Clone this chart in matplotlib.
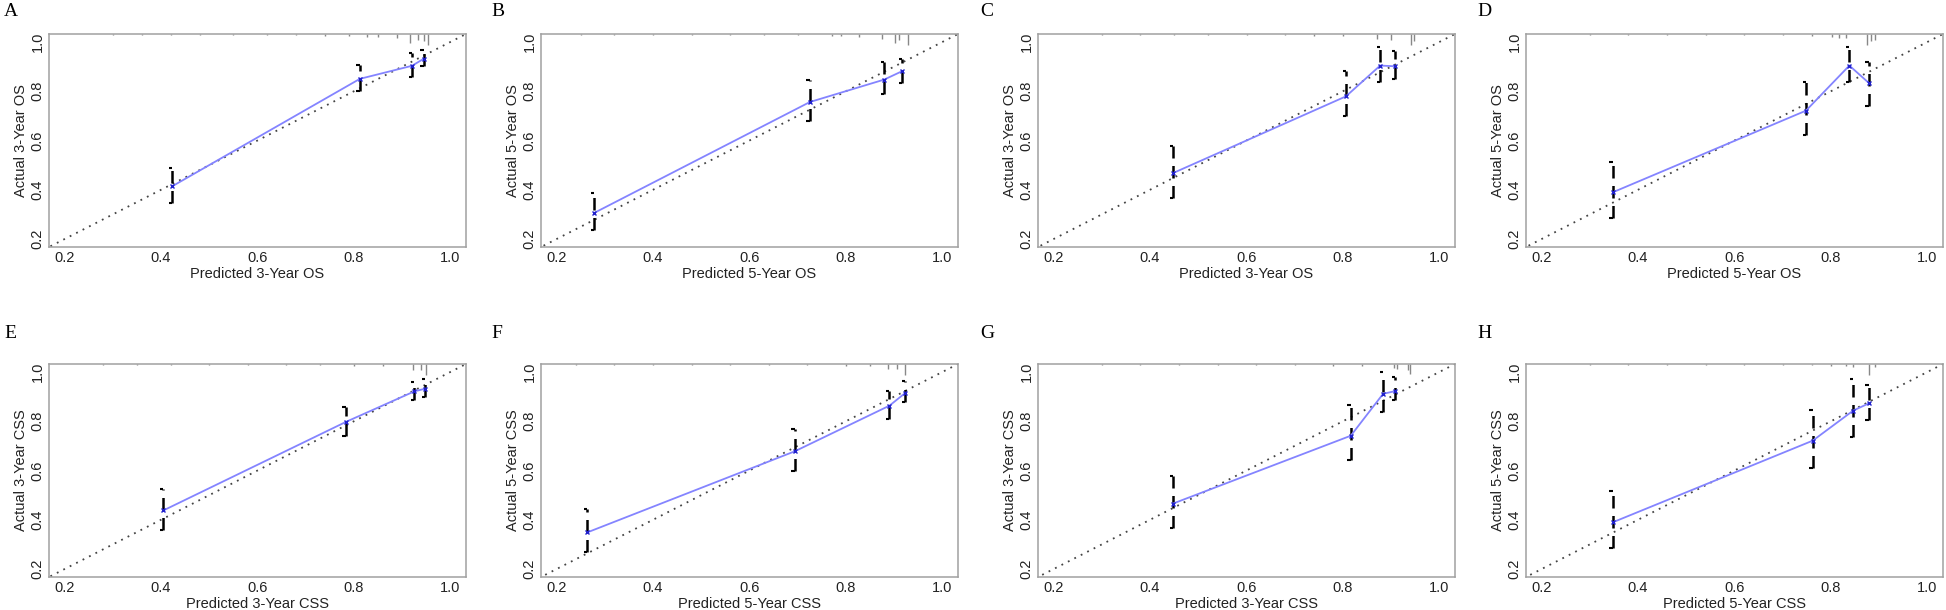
import numpy as np
import matplotlib.pyplot as plt

plt.rcParams['font.family'] = ['Liberation Sans', 'DejaVu Sans']

# panel texts
letters = ['A', 'B', 'C', 'D', 'E', 'F', 'G', 'H']
x_titles = ['Predicted 3-Year OS', 'Predicted 5-Year OS', 'Predicted 3-Year OS', 'Predicted 5-Year OS',
            'Predicted 3-Year CSS', 'Predicted 5-Year CSS', 'Predicted 3-Year CSS', 'Predicted 5-Year CSS']
y_titles = ['Actual 3-Year OS', 'Actual 5-Year OS', 'Actual 3-Year OS', 'Actual 5-Year OS',
            'Actual 3-Year CSS', 'Actual 5-Year CSS', 'Actual 3-Year CSS', 'Actual 5-Year CSS']
ticks = [0.2, 0.4, 0.6, 0.8, 1.0]
tick_labels = ['0.2', '0.4', '0.6', '0.8', '1.0']

# calibration points (predicted, observed, 95% CI)
predicted = [[0.423, 0.812, 0.920, 0.944],
             [0.278, 0.725, 0.879, 0.916],
             [0.448, 0.806, 0.877, 0.908],
             [0.348, 0.748, 0.838, 0.878],
             [0.405, 0.783, 0.925, 0.948],
             [0.264, 0.694, 0.890, 0.923],
             [0.448, 0.816, 0.883, 0.908],
             [0.348, 0.762, 0.846, 0.878]]
observed = [[0.414, 0.850, 0.903, 0.931],
            [0.306, 0.756, 0.847, 0.881],
            [0.468, 0.779, 0.904, 0.901],
            [0.390, 0.721, 0.904, 0.834],
            [0.438, 0.797, 0.921, 0.932],
            [0.349, 0.678, 0.863, 0.915],
            [0.466, 0.741, 0.911, 0.922],
            [0.390, 0.721, 0.843, 0.872]]
ci_low = [[0.345, 0.800, 0.859, 0.903],
          [0.238, 0.678, 0.789, 0.834],
          [0.366, 0.698, 0.836, 0.850],
          [0.285, 0.624, 0.836, 0.741],
          [0.358, 0.741, 0.886, 0.898],
          [0.269, 0.597, 0.810, 0.877],
          [0.366, 0.643, 0.838, 0.885],
          [0.285, 0.610, 0.736, 0.806]]
ci_high = [[0.488, 0.905, 0.953, 0.969],
           [0.387, 0.844, 0.917, 0.931],
           [0.579, 0.880, 0.981, 0.962],
           [0.513, 0.838, 0.981, 0.917],
           [0.525, 0.857, 0.959, 0.973],
           [0.444, 0.770, 0.921, 0.962],
           [0.579, 0.865, 1.000, 0.978],
           [0.515, 0.844, 0.973, 0.946]]

# distribution of predictions drawn at the top (position, length as axes fraction)
rug_pos = [[0.30, 0.36, 0.42, 0.48, 0.55, 0.62, 0.68, 0.74, 0.79, 0.826, 0.85, 0.888, 0.915, 0.932, 0.944, 0.953],
           [0.25, 0.32, 0.40, 0.48, 0.56, 0.63, 0.70, 0.77, 0.79, 0.826, 0.874, 0.902, 0.910, 0.929],
           [0.30, 0.38, 0.45, 0.52, 0.60, 0.68, 0.74, 0.80, 0.871, 0.899, 0.941, 0.948],
           [0.30, 0.38, 0.46, 0.54, 0.62, 0.70, 0.76, 0.802, 0.817, 0.831, 0.874, 0.883, 0.892],
           [0.28, 0.35, 0.42, 0.50, 0.58, 0.66, 0.73, 0.80, 0.86, 0.922, 0.939, 0.950],
           [0.24, 0.32, 0.40, 0.48, 0.56, 0.64, 0.72, 0.80, 0.85, 0.887, 0.906, 0.923],
           [0.30, 0.38, 0.46, 0.54, 0.62, 0.70, 0.78, 0.84, 0.905, 0.912, 0.934, 0.939],
           [0.30, 0.38, 0.46, 0.54, 0.62, 0.70, 0.76, 0.80, 0.831, 0.846, 0.878, 0.892]]
rug_len = [[0.006, 0.006, 0.006, 0.006, 0.006, 0.006, 0.006, 0.008, 0.010, 0.012, 0.012, 0.020, 0.040, 0.030, 0.035, 0.052],
           [0.006, 0.006, 0.006, 0.006, 0.006, 0.006, 0.006, 0.008, 0.010, 0.012, 0.025, 0.040, 0.030, 0.052],
           [0.006, 0.006, 0.006, 0.006, 0.006, 0.006, 0.008, 0.010, 0.025, 0.030, 0.050, 0.035],
           [0.006, 0.006, 0.006, 0.006, 0.006, 0.006, 0.008, 0.015, 0.020, 0.020, 0.052, 0.035, 0.030],
           [0.006, 0.006, 0.006, 0.006, 0.006, 0.006, 0.006, 0.008, 0.010, 0.030, 0.030, 0.050],
           [0.006, 0.006, 0.006, 0.006, 0.006, 0.006, 0.006, 0.008, 0.010, 0.025, 0.025, 0.050],
           [0.006, 0.006, 0.006, 0.006, 0.006, 0.006, 0.008, 0.010, 0.020, 0.025, 0.030, 0.045],
           [0.006, 0.006, 0.006, 0.006, 0.006, 0.006, 0.006, 0.008, 0.010, 0.012, 0.050, 0.012]]

W, H = 1946, 610
fig = plt.figure(figsize=(W / 100, H / 100), dpi=100)

lefts = [49, 541, 1038, 1526]
tops = [34, 364]
ax_w, ax_h = 417, 213
letter_x = [4, 491, 980, 1477]
letter_y = [12, 333]

for i in range(8):
    row, col = divmod(i, 4)
    ax = fig.add_axes([lefts[col] / W, 1 - (tops[row] + ax_h) / H, ax_w / W, ax_h / H])

    # ideal line
    ax.plot([0, 1.2], [0, 1.2], color='#444444', lw=1.3, ls=(0, (1, 3)))

    # rug of predictions
    ax.vlines(rug_pos[i], [1 - h for h in rug_len[i]], 1, color='#888888', lw=1,
              transform=ax.get_xaxis_transform())

    # confidence intervals
    x = np.array(predicted[i])
    ax.vlines(x, ci_low[i], ci_high[i], colors='black', lw=1.8, linestyles=(0, (5, 3)))
    ax.hlines(ci_low[i], x - 0.007, x, colors='black', lw=1.5)
    ax.hlines(ci_high[i], x - 0.007, x, colors='black', lw=1.5)

    # calibration curve
    ax.plot(x, observed[i], color='#8484ff', lw=1.3)
    ax.plot(x, observed[i], ls='none', marker='x', ms=3, mew=1, color='#2020cc')

    ax.set_xlim(0.168, 1.032)
    ax.set_ylim(0.168, 1.032)
    ax.set_xticks(ticks)
    ax.set_xticklabels(tick_labels)
    ax.set_yticks(ticks)
    ax.set_yticklabels(tick_labels, rotation=90, va='center')
    ax.tick_params(length=0, labelsize=10.5, colors='#222222', pad=3)
    for s in ax.spines.values():
        s.set_color('#a0a0a0')
        s.set_linewidth(1.1)
    ax.set_xlabel(x_titles[i], fontsize=10.5, color='#222222', labelpad=1)
    ax.set_ylabel(y_titles[i], fontsize=10.5, color='#222222', labelpad=2)

    fig.text((letter_x[col]) / W, 1 - letter_y[row] / H, letters[i], fontsize=14,
             family='Liberation Serif', va='center', ha='left')

fig.savefig('out.png', dpi=100, facecolor='white')
